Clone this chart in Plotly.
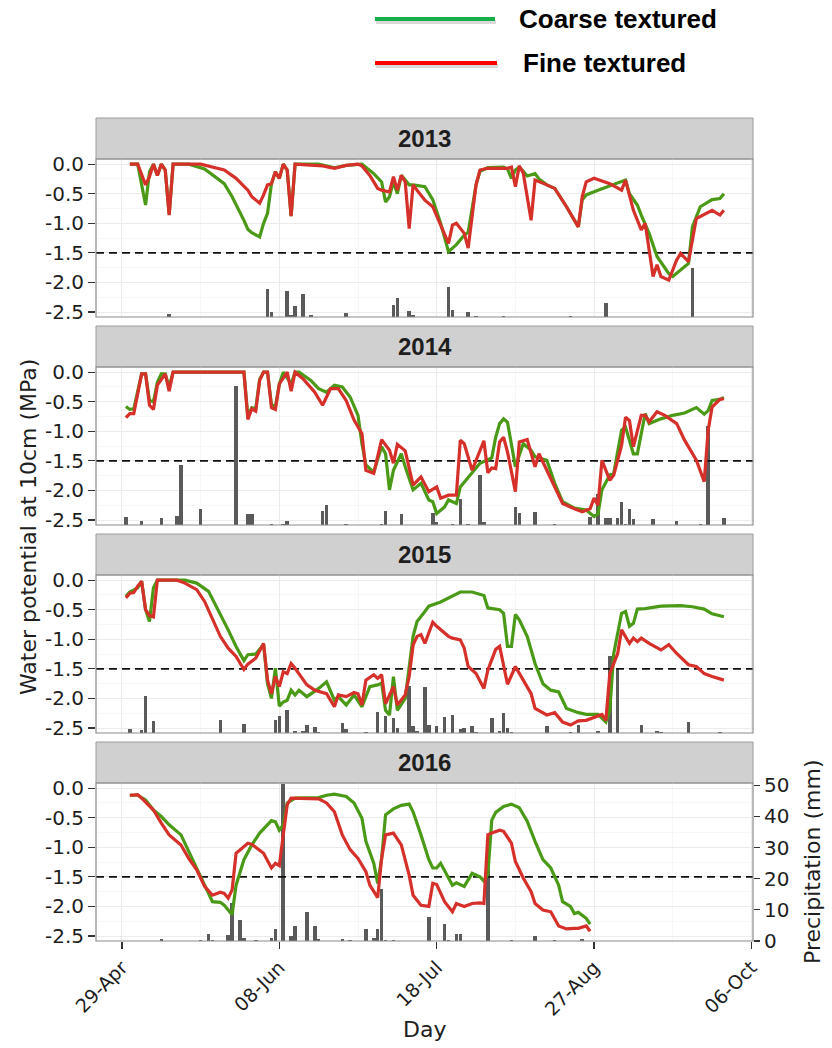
import numpy as np
import pandas as pd
import plotly.graph_objects as go

# ---------------- data ----------------
# x values: days after 29 April (the first x tick), plotted on a common dummy year
SEASON_START = pd.Timestamp("2013-04-29")
years = ["2013", "2014", "2015", "2016"]

x_tick_days = [0, 40, 80, 120, 160]
x_tick_labels = ["29-Apr", "08-Jun", "18-Jul", "27-Aug", "06-Oct"]
x_minor_days = [-20, 20, 60, 100, 140]

mpa_ticks = [0.0, -0.5, -1.0, -1.5, -2.0, -2.5]
mpa_tick_labels = ["0.0", "-0.5", "-1.0", "-1.5", "-2.0", "-2.5"]
mpa_minor = [-0.25, -0.75, -1.25, -1.75, -2.25]
precip_ticks = [0, 10, 20, 30, 40, 50]
precip_tick_labels = ["0", "10", "20", "30", "40", "50"]
threshold_mpa = -1.5

# ---- 2013 ----
day13_coarse = [2, 4, 6, 7, 8, 9, 10, 11, 12, 13, 17, 21, 26, 28, 31, 32, 33, 35, 36, 37, 38, 39, 40, 41, 42, 43, 44,
                50, 54, 57, 61, 64, 66, 67, 68, 69, 70, 71, 72, 73, 74, 77, 79, 81, 83, 85, 87, 88, 90, 91, 93, 97, 98,
                99, 100, 101, 102, 103, 105, 106, 108, 110, 113, 116, 117, 118, 121, 125, 128, 129, 131, 132, 134, 136,
                139, 140, 144, 145, 147, 150, 152, 153]
mpa13_coarse = [0.0, 0.0, -0.69, -0.13, 0.0, -0.19, 0.0, -0.1, -0.85, 0.0, 0.0, -0.08, -0.33, -0.55, -0.95, -1.1, -1.16,
                -1.23, -1.0, -0.83, -0.33, -0.13, -0.24, 0.0, -0.1, -0.88, 0.0, 0.0, -0.06, -0.02, 0.0, -0.16, -0.3,
                -0.64, -0.55, -0.3, -0.5, -0.19, -0.27, -0.35, -0.35, -0.38, -0.6, -1.0, -1.48, -1.36, -1.2, -1.15,
                -0.35, -0.12, -0.06, -0.05, -0.08, -0.24, -0.1, -0.05, -0.12, -0.2, -0.16, -0.25, -0.35, -0.41, -0.72,
                -1.06, -0.6, -0.52, -0.44, -0.35, -0.27, -0.5, -0.69, -0.86, -1.17, -1.56, -1.85, -1.9, -1.68, -1.06,
                -0.72, -0.6, -0.58, -0.5]
day13_fine = [2, 4, 6, 7, 8, 9, 10, 11, 12, 13, 20, 26, 29, 32, 33, 35, 36, 37, 38, 39, 40, 41, 42, 43, 44, 51, 54, 57,
              60, 61, 63, 65, 66, 68, 69, 70, 71, 72, 73, 74, 75, 77, 79, 81, 83, 84, 85, 87, 88, 90, 91, 93, 97, 98,
              99, 100, 101, 102, 104, 105, 108, 110, 113, 116, 117, 118, 120, 124, 127, 128, 130, 132, 133, 135, 136,
              137, 139, 141, 142, 144, 146, 150, 152, 153]
mpa13_fine = [0.0, 0.0, -0.35, -0.21, 0.0, -0.19, 0.0, -0.1, -0.86, 0.0, 0.0, -0.1, -0.24, -0.44, -0.55, -0.66, -0.52,
              -0.35, -0.33, -0.13, -0.24, 0.0, -0.1, -0.88, 0.0, -0.03, -0.07, -0.02, 0.0, -0.03, -0.19, -0.41, -0.44,
              -0.47, -0.21, -0.44, -0.19, -0.3, -1.09, -0.35, -0.44, -0.61, -0.72, -1.03, -1.34, -1.03, -1.0, -1.17,
              -1.42, -0.35, -0.1, -0.07, -0.06, -0.07, -0.05, -0.38, -0.03, -0.15, -0.95, -0.27, -0.35, -0.41, -0.72,
              -1.06, -0.55, -0.3, -0.24, -0.33, -0.44, -0.27, -0.78, -1.11, -1.0, -1.9, -1.7, -1.9, -1.96, -1.62,
              -1.51, -1.65, -0.92, -0.78, -0.86, -0.78]
day13_rain = [12, 37, 38, 42, 43, 44, 46, 48, 57, 69, 70, 73, 74, 83, 84, 88, 90, 97, 114, 123, 145]
mm13_rain = [1.0, 8.9, 1.5, 8.5, 0.5, 3.5, 7.5, 0.8, 1.3, 3.7, 6.2, 1.8, 0.8, 9.6, 2.4, 1.5, 0.3, 0.2, 0.2, 4.5, 15.6]

# ---- 2014 ----
day14_coarse = [1, 2, 3, 5, 6, 7, 8, 9, 10, 11, 12, 13, 31, 32, 33, 34, 35, 36, 37, 38, 39, 40, 41, 43, 44, 45, 48, 50,
                52, 54, 56, 58, 60, 61, 62, 64, 66, 67, 68, 69, 71, 72, 74, 76, 78, 79, 80, 82, 83, 85, 86, 89, 91, 94,
                95, 96, 97, 98, 100, 102, 104, 105, 108, 110, 112, 115, 118, 120, 121, 122, 124, 125, 127, 128, 130,
                131, 133, 134, 137, 140, 143, 146, 148, 149, 150, 152, 153]
mpa14_coarse = [-0.58, -0.63, -0.62, -0.03, -0.03, -0.48, -0.5, -0.17, -0.03, -0.03, -0.25, 0.0, 0.0, -0.75, -0.6,
                -0.62, -0.12, 0.0, 0.0, -0.55, -0.58, -0.2, 0.0, -0.2, 0.0, 0.0, -0.14, -0.28, -0.34, -0.22, -0.25,
                -0.42, -0.73, -1.21, -1.57, -1.69, -1.26, -1.38, -1.99, -1.66, -1.38, -1.6, -1.99, -1.88, -2.16, -2.19,
                -2.39, -2.28, -2.16, -2.22, -1.94, -1.71, -1.54, -1.45, -1.1, -0.87, -0.79, -0.85, -1.6, -1.21, -1.32,
                -1.43, -1.49, -1.88, -2.19, -2.3, -2.33, -2.44, -2.4, -1.99, -1.74, -1.71, -0.98, -0.93, -1.38, -1.38,
                -0.7, -0.87, -0.79, -0.73, -0.69, -0.6, -0.71, -0.65, -0.48, -0.46, -0.43]
day14_fine = [1, 2, 3, 5, 6, 7, 8, 9, 11, 12, 13, 31, 32, 33, 34, 35, 36, 37, 38, 39, 40, 42, 43, 44, 46, 49, 51, 53, 55,
              57, 59, 61, 62, 64, 66, 68, 69, 70, 72, 74, 76, 78, 80, 81, 83, 85, 86, 87, 89, 90, 92, 93, 94, 95, 96,
              97, 98, 100, 101, 103, 105, 106, 108, 110, 112, 115, 117, 119, 120, 121, 122, 124, 125, 127, 128, 129,
              130, 132, 133, 134, 136, 138, 141, 143, 146, 148, 149, 150, 152, 153]
mpa14_fine = [-0.77, -0.7, -0.7, -0.03, -0.03, -0.56, -0.63, -0.22, -0.03, -0.32, 0.0, 0.0, -0.8, -0.62, -0.66, -0.14,
              0.0, 0.0, -0.6, -0.63, -0.2, 0.0, -0.32, 0.0, -0.11, -0.34, -0.56, -0.28, -0.28, -0.48, -0.81, -1.04,
              -1.66, -1.71, -1.14, -1.32, -1.54, -1.22, -1.33, -1.91, -1.77, -2.02, -1.94, -2.13, -2.08, -2.08, -1.15,
              -1.21, -1.66, -1.49, -1.16, -1.7, -1.62, -1.63, -1.18, -1.1, -1.35, -2.02, -1.18, -1.14, -1.6, -1.38,
              -1.66, -1.94, -2.22, -2.31, -2.36, -2.31, -2.13, -2.25, -1.49, -1.83, -1.74, -1.24, -0.76, -0.82, -1.26,
              -0.73, -0.73, -0.84, -0.67, -0.73, -0.87, -1.15, -1.49, -1.85, -0.98, -0.59, -0.46, -0.45]
day14_rain = [1, 5, 10, 14, 15, 20, 29, 32, 33, 38, 41, 42, 51, 52, 57, 66, 67, 71, 79, 80, 84, 86, 88, 91, 92, 100,
              101, 105, 110, 119, 121, 123, 124, 126, 127, 128, 129, 130, 135, 141, 147, 149, 153]
mm14_rain = [2.6, 1.2, 2.1, 2.8, 19.4, 5.1, 44.6, 3.5, 3.5, 0.4, 0.3, 1.3, 4.5, 6.4, 0.2, 0.2, 4.5, 3.5, 3.7, 1.0, 0.3,
             8.5, 0.3, 16.1, 1.0, 5.8, 4.0, 4.2, 0.2, 2.6, 9.8, 2.1, 2.1, 2.3, 7.5, 0.2, 5.0, 1.8, 1.8, 1.2, 0.2, 31.8,
             2.1]

# ---- 2015 ----
day15_coarse = [1, 2, 4, 5, 6, 7, 8, 9, 16, 19, 22, 24, 27, 29, 31, 32, 34, 36, 37, 38, 39, 40, 41, 42, 43, 44, 45, 47,
                50, 52, 54, 55, 57, 59, 61, 63, 65, 66, 67, 68, 69, 70, 72, 74, 75, 77, 78, 81, 83, 86, 89, 92, 93, 96,
                97, 98, 99, 100, 101, 103, 105, 107, 109, 111, 113, 116, 118, 121, 123, 124, 125, 127, 128, 129, 130,
                131, 133, 137, 142, 145, 148, 150, 153]
mpa15_coarse = [-0.27, -0.2, -0.13, -0.02, -0.5, -0.7, -0.13, 0.0, 0.0, -0.05, -0.19, -0.44, -0.84, -1.12, -1.36,
                -1.26, -1.25, -1.09, -1.75, -2.0, -1.49, -2.13, -2.06, -2.03, -1.86, -1.94, -1.86, -1.97, -1.83, -1.72,
                -2.03, -1.97, -2.11, -1.94, -2.14, -1.8, -1.77, -1.74, -2.2, -2.28, -1.63, -2.2, -2.0, -0.95, -0.7,
                -0.53, -0.44, -0.37, -0.3, -0.2, -0.2, -0.26, -0.47, -0.5, -0.56, -1.12, -1.12, -0.58, -0.67, -0.95,
                -1.41, -1.75, -1.86, -1.89, -2.17, -2.24, -2.27, -2.27, -2.4, -2.2, -1.24, -0.56, -0.53, -0.78, -0.73,
                -0.49, -0.48, -0.44, -0.43, -0.45, -0.49, -0.57, -0.62]
day15_fine = [1, 2, 3, 4, 5, 6, 7, 8, 9, 14, 16, 19, 21, 23, 25, 27, 29, 31, 32, 34, 36, 37, 38, 39, 40, 41, 42, 43, 44,
              47, 49, 52, 54, 55, 57, 59, 60, 61, 62, 64, 65, 66, 67, 69, 70, 72, 73, 74, 75, 76, 77, 79, 80, 83, 84,
              86, 87, 88, 90, 92, 93, 95, 96, 98, 100, 102, 104, 105, 108, 110, 112, 114, 116, 118, 120, 122, 123, 124,
              126, 127, 129, 130, 131, 132, 134, 137, 139, 141, 144, 146, 148, 150, 153]
mpa15_fine = [-0.3, -0.22, -0.21, -0.1, -0.02, -0.5, -0.6, -0.62, 0.0, 0.0, -0.05, -0.16, -0.36, -0.64, -0.95, -1.15,
              -1.29, -1.51, -1.42, -1.32, -1.07, -1.69, -1.92, -1.63, -1.8, -1.55, -1.58, -1.41, -1.49, -1.77, -1.86,
              -1.92, -2.14, -1.94, -1.97, -1.9, -1.92, -2.11, -1.69, -1.6, -1.66, -1.6, -2.09, -1.8, -2.11, -1.94,
              -1.63, -1.1, -0.95, -0.92, -1.07, -0.71, -0.78, -0.95, -0.98, -1.01, -1.15, -1.46, -1.58, -1.83, -1.52,
              -1.17, -1.12, -1.76, -1.46, -1.69, -1.92, -2.17, -2.28, -2.24, -2.4, -2.45, -2.38, -2.37, -2.32, -2.27,
              -2.37, -1.58, -1.24, -0.84, -1.07, -0.98, -1.04, -0.98, -1.07, -1.18, -1.09, -1.24, -1.43, -1.46, -1.58,
              -1.63, -1.69]
day15_rain = [2, 5, 6, 8, 25, 31, 39, 40, 42, 44, 46, 47, 49, 50, 56, 57, 62, 65, 67, 69, 70, 73, 74, 75, 77, 78, 80,
              82, 84, 86, 87, 89, 90, 94, 96, 97, 98, 99, 108, 114, 116, 121, 124, 126, 132, 136, 137, 144, 152]
mm15_rain = [1.2, 1.0, 12.0, 3.7, 4.1, 2.8, 4.2, 5.5, 7.5, 0.6, 0.8, 2.6, 1.8, 0.4, 3.1, 1.3, 0.2, 6.9, 5.6, 4.8, 1.5,
             15.0, 2.1, 0.8, 14.7, 2.6, 2.4, 5.1, 5.7, 1.3, 1.6, 2.3, 0.4, 4.8, 0.6, 6.4, 1.7, 0.4, 2.3, 0.2, 2.6, 0.6,
             24.8, 20.5, 2.6, 0.6, 0.2, 3.4, 0.2]

# ---- 2016 ----
day16_coarse = [2, 4, 6, 8, 10, 12, 15, 17, 19, 21, 23, 25, 26, 28, 29, 31, 33, 35, 38, 39, 40, 41, 42, 44, 47, 50, 52,
                54, 57, 59, 61, 62, 64, 65, 66, 67, 69, 71, 73, 74, 76, 78, 79, 80, 81, 83, 84, 85, 87, 89, 91, 92, 93,
                94, 95, 97, 99, 101, 103, 105, 107, 109, 111, 112, 114, 115, 116, 118, 119]
mpa16_coarse = [-0.12, -0.12, -0.2, -0.37, -0.48, -0.62, -0.79, -1.07, -1.35, -1.66, -1.92, -1.93, -1.98, -2.14, -1.64,
                -1.21, -0.96, -0.76, -0.55, -0.57, -0.71, -0.62, -0.25, -0.17, -0.17, -0.16, -0.12, -0.1, -0.14, -0.25,
                -0.51, -0.9, -1.27, -1.61, -1.19, -0.45, -0.35, -0.29, -0.27, -0.4, -0.79, -1.21, -1.35, -1.35, -1.27,
                -1.5, -1.64, -1.6, -1.66, -1.44, -1.5, -1.57, -1.45, -0.54, -0.41, -0.31, -0.27, -0.33, -0.56, -0.9,
                -1.21, -1.35, -1.64, -1.92, -2.0, -2.12, -2.1, -2.2, -2.3]
day16_fine = [2, 4, 5, 8, 10, 12, 15, 17, 19, 21, 23, 25, 26, 27, 28, 29, 32, 33, 36, 38, 39, 40, 41, 42, 43, 46, 50, 52,
              54, 56, 58, 60, 62, 63, 65, 66, 67, 69, 71, 73, 74, 76, 78, 79, 80, 82, 84, 85, 87, 89, 91, 92, 93, 94,
              96, 97, 99, 100, 102, 104, 105, 107, 109, 111, 113, 115, 116, 118, 119]
mpa16_fine = [-0.12, -0.11, -0.17, -0.37, -0.59, -0.79, -0.96, -1.19, -1.38, -1.66, -1.81, -1.76, -1.78, -1.86, -1.72,
              -1.1, -0.93, -0.95, -1.1, -1.35, -1.27, -1.31, -0.79, -0.28, -0.17, -0.17, -0.18, -0.25, -0.4, -0.79,
              -1.04, -1.19, -1.41, -1.64, -1.85, -1.19, -0.79, -0.76, -0.96, -1.47, -1.81, -1.98, -2.0, -1.61, -1.63,
              -1.92, -2.09, -1.95, -2.0, -1.95, -1.94, -1.95, -0.79, -0.76, -0.71, -0.73, -0.93, -1.24, -1.52, -1.75,
              -1.95, -2.06, -2.09, -2.33, -2.38, -2.37, -2.37, -2.33, -2.42]
day16_rain = [10, 20, 22, 23, 27, 28, 30, 31, 34, 38, 39, 41, 43, 44, 47, 49, 50, 56, 58, 62, 64, 65, 66, 67, 69, 78,
              82, 83, 85, 86, 93, 99, 105, 110, 117]
mm16_rain = [0.8, 0.3, 2.1, 0.4, 1.8, 12.1, 6.7, 1.0, 0.2, 1.0, 4.0, 50.5, 1.5, 4.8, 9.4, 4.9, 0.5, 0.8, 0.3, 3.7, 1.0,
             3.7, 16.8, 0.2, 0.2, 7.8, 5.3, 0.2, 2.4, 2.2, 30.0, 0.2, 1.5, 0.2, 0.8]

coarse_days = [day13_coarse, day14_coarse, day15_coarse, day16_coarse]
coarse_mpa = [mpa13_coarse, mpa14_coarse, mpa15_coarse, mpa16_coarse]
fine_days = [day13_fine, day14_fine, day15_fine, day16_fine]
fine_mpa = [mpa13_fine, mpa14_fine, mpa15_fine, mpa16_fine]
rain_days = [day13_rain, day14_rain, day15_rain, day16_rain]
rain_mm = [mm13_rain, mm14_rain, mm15_rain, mm16_rain]

# ---------------- styling / layout ----------------
W, H = 832, 1048
L_PX, R_PX, T_PX, B_PX = 96, 753, 118, 941
PANEL_TOP0, PANEL_STEP, PANEL_H, STRIP_H = 159, 208, 158, 41

GREEN, RED, BAR = "#4b9a17", "#d6302a", "#5a5a5a"
LEG_GREEN, LEG_RED = "#16ad4a", "#ff0000"
GRID, GRID_MINOR = "#ebebeb", "#f5f5f5"
TXT = "#1e1e1e"
FONT = "DejaVu Sans"
BOLD_FONT = "Liberation Sans"

MPA_RANGE = [-2.584, 0.087]
MM_RANGE = [0, 50.7]
X_RANGE_DAYS = [-6.6, 160.4]


def to_date(days):
    return SEASON_START + pd.to_timedelta(np.asarray(days, dtype=float), unit="D")


def px_x(px):
    return (px - L_PX) / (R_PX - L_PX)


def px_y(py):
    return (B_PX - py) / (B_PX - T_PX)


x_range = [str(d) for d in to_date(X_RANGE_DAYS)]
x_tickvals = list(to_date(x_tick_days))
x_minorvals = list(to_date(x_minor_days))
bar_width_ms = 0.9 * 86400000

fig = go.Figure()
layout = dict(
    width=W, height=H,
    margin=dict(l=L_PX, r=W - R_PX, t=T_PX, b=H - B_PX, pad=0),
    paper_bgcolor="white", plot_bgcolor="white",
    showlegend=False, bargap=0,
    font=dict(family=FONT, color=TXT),
)
shapes, annotations = [], []

for i, yr in enumerate(years):
    sfx = "" if i == 0 else str(i + 1)
    xname, ybar, yline = "x" + sfx, "y" + sfx, "y" + str(i + 5)
    top = PANEL_TOP0 + PANEL_STEP * i
    dom = [px_y(top + PANEL_H), px_y(top)]
    bottom_panel = (i == len(years) - 1)

    layout["xaxis" + sfx] = dict(
        domain=[0, 1], anchor=ybar, type="date", range=x_range,
        tickvals=x_tickvals, ticktext=x_tick_labels,
        showticklabels=bottom_panel, ticks="outside" if bottom_panel else "",
        ticklen=7, tickwidth=1.2, tickcolor="#333", tickangle=-45,
        tickfont=dict(family=FONT, size=19, color=TXT),
        showgrid=True, gridcolor=GRID, gridwidth=1,
        minor=dict(tickvals=x_minorvals, showgrid=True, gridcolor=GRID_MINOR, gridwidth=0.8, ticks=""),
        zeroline=False, showline=False, fixedrange=True,
    )
    layout["yaxis" + sfx] = dict(
        domain=dom, anchor=xname, side="right", range=MM_RANGE,
        showgrid=False, zeroline=False, showline=False,
        tickvals=precip_ticks if bottom_panel else [], ticktext=precip_tick_labels if bottom_panel else [],
        showticklabels=bottom_panel, ticks="outside" if bottom_panel else "",
        ticklen=6, tickwidth=1.2, tickcolor="#333",
        tickfont=dict(family=FONT, size=20, color=TXT), fixedrange=True,
    )
    layout["yaxis" + str(i + 5)] = dict(
        overlaying=ybar, anchor=xname, side="left", range=MPA_RANGE,
        tickvals=mpa_ticks, ticktext=mpa_tick_labels, ticks="outside",
        ticklen=7, tickwidth=1.2, tickcolor="#333",
        tickfont=dict(family=FONT, size=20, color=TXT),
        showgrid=True, gridcolor=GRID, gridwidth=1,
        minor=dict(tickvals=mpa_minor, showgrid=True, gridcolor=GRID_MINOR, gridwidth=0.8, ticks=""),
        zeroline=False, showline=False, fixedrange=True,
    )

    # precipitation bars (drawn first, underneath the lines)
    fig.add_trace(go.Bar(
        x=to_date(rain_days[i]), y=rain_mm[i], xaxis=xname, yaxis=ybar,
        width=bar_width_ms, marker=dict(color=BAR, line=dict(width=0)),
        name=f"Precipitation {yr}", hoverinfo="skip",
    ))
    # -1.5 MPa threshold
    fig.add_trace(go.Scatter(
        x=to_date(X_RANGE_DAYS), y=[threshold_mpa, threshold_mpa], xaxis=xname, yaxis=yline,
        mode="lines", line=dict(color="#111", width=1.8, dash="8px,5px"), hoverinfo="skip",
    ))
    fig.add_trace(go.Scatter(
        x=to_date(coarse_days[i]), y=coarse_mpa[i], xaxis=xname, yaxis=yline,
        mode="lines", line=dict(color=GREEN, width=3.2), name=f"Coarse textured {yr}",
    ))
    fig.add_trace(go.Scatter(
        x=to_date(fine_days[i]), y=fine_mpa[i], xaxis=xname, yaxis=yline,
        mode="lines", line=dict(color=RED, width=3.2), name=f"Fine textured {yr}",
    ))

    # panel border and facet strip
    shapes.append(dict(type="rect", xref=xname + " domain", yref=ybar + " domain",
                       x0=0, x1=1, y0=0, y1=1, line=dict(color="#8c8c8c", width=1.2),
                       fillcolor="rgba(0,0,0,0)", layer="above"))
    shapes.append(dict(type="rect", xref=xname + " domain", yref=ybar + " domain",
                       x0=0, x1=1, y0=1, y1=1 + STRIP_H / PANEL_H,
                       line=dict(color="#9c9c9c", width=1), fillcolor="#d0d0d0", layer="below"))
    annotations.append(dict(xref=xname + " domain", yref=ybar + " domain",
                            x=0.5, y=1 + STRIP_H / 2 / PANEL_H, text=f"<b>{yr}</b>", showarrow=False,
                            xanchor="center", yanchor="middle",
                            font=dict(family=BOLD_FONT, size=24, color=TXT)))

# axis titles
annotations.append(dict(xref="paper", yref="paper", x=px_x(28), y=px_y(527),
                        text="Water potential at 10cm (MPa)", textangle=-90, showarrow=False,
                        xanchor="center", yanchor="middle", font=dict(family=FONT, size=22, color=TXT)))
annotations.append(dict(xref="paper", yref="paper", x=px_x(812), y=px_y(862),
                        text="Precipitation (mm)", textangle=-90, showarrow=False,
                        xanchor="center", yanchor="middle", font=dict(family=FONT, size=22, color=TXT)))
annotations.append(dict(xref="paper", yref="paper", x=px_x(424), y=px_y(1029),
                        text="Day", showarrow=False,
                        xanchor="center", yanchor="middle", font=dict(family=FONT, size=22, color=TXT)))

# custom legend (top)
legend_items = [("Coarse textured", LEG_GREEN, 19, 375, 495, 517),
                ("Fine textured", LEG_RED, 63, 375, 497, 521)]
for label, col, ly, lx0, lx1, tx in legend_items:
    shapes.append(dict(type="line", xref="paper", yref="paper",
                       x0=px_x(lx0 + 1), x1=px_x(lx1 + 1), y0=px_y(ly + 3), y1=px_y(ly + 3),
                       line=dict(color="rgba(0,0,0,0.15)", width=4)))
    shapes.append(dict(type="line", xref="paper", yref="paper",
                       x0=px_x(lx0), x1=px_x(lx1), y0=px_y(ly), y1=px_y(ly),
                       line=dict(color=col, width=4)))
    annotations.append(dict(xref="paper", yref="paper", x=px_x(tx), y=px_y(ly), text=f"<b>{label}</b>",
                            showarrow=False, xanchor="left", yanchor="middle",
                            font=dict(family=BOLD_FONT, size=26, color="#000")))

layout["shapes"] = shapes
layout["annotations"] = annotations
fig.update_layout(**layout)

# let the figure fill the 832x1048 page exactly (remove the default 8px body margin)
fig.write_html("out.html", include_plotlyjs=True,
               config={"displayModeBar": False, "staticPlot": True},
               post_script="document.body.style.margin='0';document.body.style.overflow='hidden';")
